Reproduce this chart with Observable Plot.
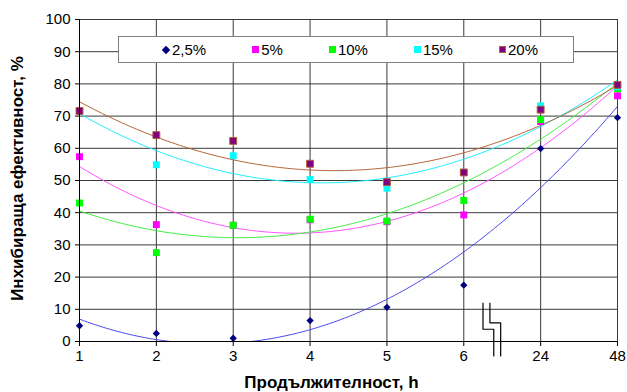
<!DOCTYPE html>
<html>
<head>
<meta charset="utf-8">
<script src="https://cdn.jsdelivr.net/npm/d3@7"></script>
<script src="https://cdn.jsdelivr.net/npm/@observablehq/plot@0.6"></script>
<style>
  body { margin: 0; background: #fff; font-family: Arial, "Liberation Sans", sans-serif; }
  #chart { position: relative; width: 627px; height: 392px; }
  #legend {
    position: absolute; left: 118px; top: 36px; width: 456px; height: 27px;
    box-sizing: border-box; border: 1px solid #808080; background: #fff;
    display: flex; align-items: center; gap: 46px; padding-left: 43px;
    font-size: 15px; color: #000;
  }
  #legend .item { display: flex; align-items: center; gap: 2px; }
  #legend .sw { width: 7px; height: 7px; display: inline-block; box-sizing: border-box; }
  #legend .dia { width: 6px; height: 6px; transform: rotate(45deg); margin: 0 1px; }
</style>
</head>
<body>
<div id="chart"><div id="legend"></div></div>
<script>
// Exposure time categories (h), placed at equal steps along the axis
const hours = ["1", "2", "3", "4", "5", "6", "24", "48"];
const concentrations = ["2,5%", "5%", "10%", "15%", "20%"];

// Inhibiting efficiency, % — one array per inhibitor concentration
const eff2_5 = [4.9, 2.5, 1.0, 6.5, 10.6, 17.5, 59.9, 69.5];
const eff5   = [57.4, 36.3, 36.1, 37.8, 37.2, 39.3, 68.3, 76.3];
const eff10  = [43.0, 27.6, 36.1, 38.0, 37.4, 43.8, 68.9, 78.5];
const eff15  = [71.6, 54.9, 57.7, 50.3, 47.6, 52.5, 73.2, 79.1];
const eff20  = [71.6, 64.1, 62.3, 55.2, 49.5, 52.5, 72.0, 79.7];

const yTicks = [0, 10, 20, 30, 40, 50, 60, 70, 80, 90, 100];

const series = [
  {name: concentrations[0], values: eff2_5, symbol: "diamond2", fill: "#000080", stroke: "none", trend: "#4a4af0"},
  {name: concentrations[1], values: eff5,   symbol: "square",   fill: "#ff00ff", stroke: "none", trend: "#ff55ff"},
  {name: concentrations[2], values: eff10,  symbol: "square",   fill: "#00ff00", stroke: "none", trend: "#44ee44"},
  {name: concentrations[3], values: eff15,  symbol: "square",   fill: "#00ffff", stroke: "none", trend: "#22eeff"},
  {name: concentrations[4], values: eff20,  symbol: "square",   fill: "#800080", stroke: "#b0603a", trend: "#b5653a"}
];

const idx = hours.map((_, i) => i + 1);

// Least-squares quadratic trend y = a + b·x + c·x² over the category index
function quadFit(xs, ys) {
  const S = k => d3.sum(xs, x => x ** k);
  const T = k => d3.sum(xs, (x, i) => x ** k * ys[i]);
  const A = [[S(0), S(1), S(2)], [S(1), S(2), S(3)], [S(2), S(3), S(4)]];
  const B = [T(0), T(1), T(2)];
  for (let c = 0; c < 3; c++) {
    for (let r = c + 1; r < 3; r++) {
      const f = A[r][c] / A[c][c];
      for (let k = c; k < 3; k++) A[r][k] -= f * A[c][k];
      B[r] -= f * B[c];
    }
  }
  const s = [0, 0, 0];
  for (let r = 2; r >= 0; r--) {
    let v = B[r];
    for (let k = r + 1; k < 3; k++) v -= A[r][k] * s[k];
    s[r] = v / A[r][r];
  }
  return x => s[0] + s[1] * x + s[2] * x * x;
}

const marks = [
  Plot.gridY(yTicks, {stroke: "#3a3a3a", strokeOpacity: 1}),
  Plot.gridX(idx, {stroke: "#3a3a3a", strokeOpacity: 1})
];

for (const s of series) {
  const f = quadFit(idx, s.values);
  const curve = d3.range(1, 8.0001, 0.05).map(x => ({x, y: f(x)}));
  marks.push(Plot.line(curve, {x: "x", y: "y", stroke: s.trend, strokeWidth: 1, clip: true}));
}

for (const s of series) {
  const pts = s.values.map((v, i) => ({x: i + 1, y: v}));
  marks.push(Plot.dot(pts, {
    x: "x", y: "y", symbol: s.symbol,
    r: s.symbol === "square" ? 3.9 : 3.3,
    fill: s.fill, stroke: s.stroke, strokeWidth: 1
  }));
}

// Axis-break glyph between "6" and "24"
const breakA = [{x: 6.25, y: 11.9}, {x: 6.25, y: 3.8}, {x: 6.39, y: 3.8}, {x: 6.39, y: -4.5}];
const breakB = [{x: 6.34, y: 11.9}, {x: 6.34, y: 5.8}, {x: 6.48, y: 5.8}, {x: 6.48, y: -4.5}];

marks.push(
  Plot.ruleY([0], {stroke: "#000"}),
  Plot.ruleX([1], {stroke: "#000"}),
  Plot.axisY(yTicks, {tickSize: 4, tickPadding: 5, label: null, fontSize: 15}),
  Plot.axisX(idx, {tickSize: 5, tickPadding: 4, label: null, fontSize: 15, tickFormat: i => hours[i - 1]}),
  Plot.line(breakA, {x: "x", y: "y", stroke: "#000", strokeWidth: 1.2, clip: false}),
  Plot.line(breakB, {x: "x", y: "y", stroke: "#000", strokeWidth: 1.2, clip: false}),
  Plot.text(["Продължителност, h"], {frameAnchor: "bottom", dx: -17, dy: 41, lineAnchor: "middle",
    textAnchor: "middle", fontSize: 17, fontWeight: "bold"}),
  Plot.text(["Инхибираща ефективност, %"], {frameAnchor: "left", dx: -62, dy: -2, rotate: -90,
    textAnchor: "middle", lineAnchor: "middle", fontSize: 17, fontWeight: "bold"})
);

const chart = Plot.plot({
  width: 627,
  height: 392,
  marginLeft: 79,
  marginRight: 10,
  marginTop: 19,
  marginBottom: 51,
  style: {fontFamily: "Arial, 'Liberation Sans', sans-serif", fontSize: "15px", color: "#000", background: "#fff", overflow: "visible"},
  x: {type: "linear", domain: [1, 8]},
  y: {domain: [0, 100]},
  marks
});
document.getElementById("chart").prepend(chart);

// Legend inside the plot frame
const legend = document.getElementById("legend");
for (const s of series) {
  const item = document.createElement("span");
  item.className = "item";
  const sw = document.createElement("span");
  sw.className = "sw" + (s.symbol === "diamond2" ? " dia" : "");
  sw.style.background = s.fill;
  if (s.stroke !== "none") sw.style.border = `1px solid ${s.stroke}`;
  item.appendChild(sw);
  item.appendChild(document.createTextNode(s.name));
  legend.appendChild(item);
}
</script>
</body>
</html>
